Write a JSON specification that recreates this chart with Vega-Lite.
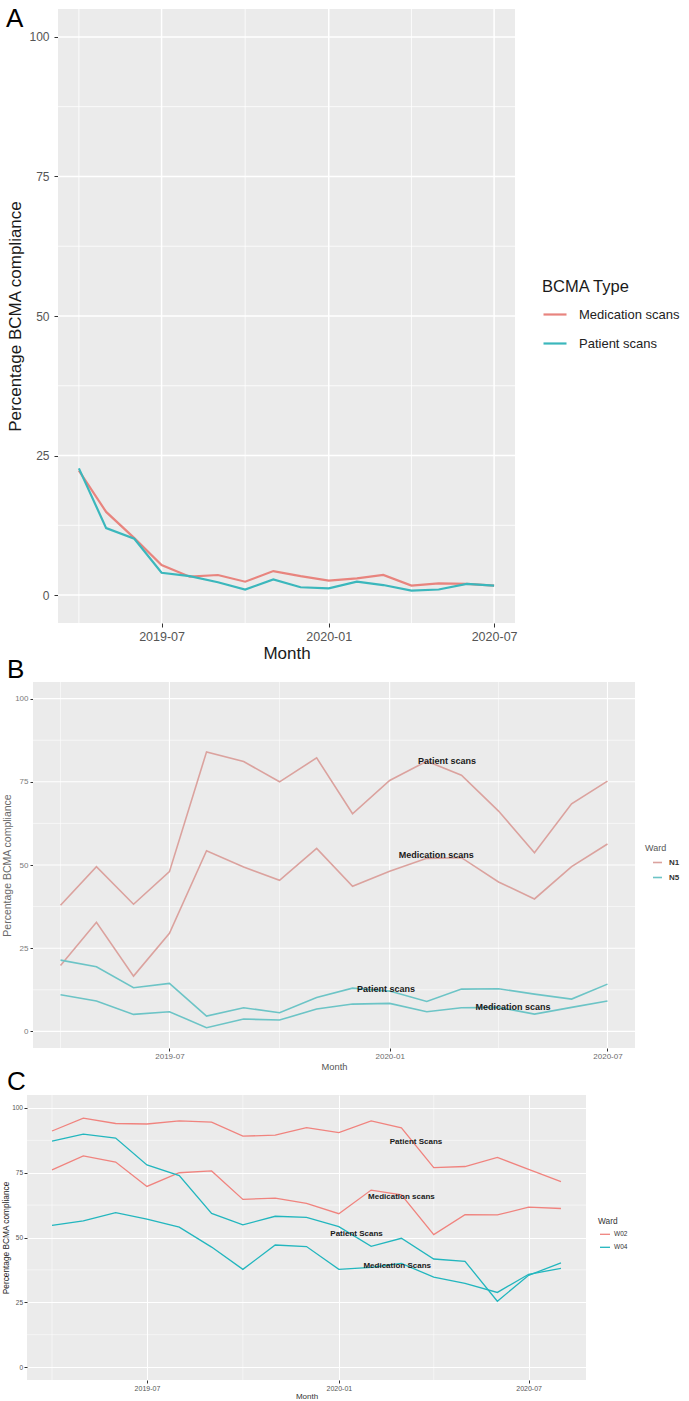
{
"$schema":"https://vega.github.io/schema/vega-lite/v6.json",
"padding":{"left":1,"top":6,"right":0,"bottom":0},
"bounds":"flush",
"spacing":47,
"config":{
 "font":"Liberation Sans",
 "view":{"stroke":null,"fill":null},
 "axis":{"domain":false,"grid":false,"tickColor":"#333333","labelFont":"Liberation Sans","titleFont":"Liberation Sans","titleFontWeight":"normal","labelFlush":false,"labelOverlap":false},
 "legend":{"labelFont":"Liberation Sans","titleFont":"Liberation Sans","padding":0,"titleFontWeight":"normal"},
 "title":{"font":"Liberation Sans","fontWeight":"normal","color":"#000000","fontSize":26}
},
"datasets":{
 "a":[
  {"Month":"2019-04-01","Type":"Medication scans","Value":22.3},{"Month":"2019-05-01","Type":"Medication scans","Value":14.9},{"Month":"2019-06-01","Type":"Medication scans","Value":10.2},{"Month":"2019-07-01","Type":"Medication scans","Value":5.4},{"Month":"2019-08-01","Type":"Medication scans","Value":3.3},{"Month":"2019-09-01","Type":"Medication scans","Value":3.6},{"Month":"2019-10-01","Type":"Medication scans","Value":2.4},{"Month":"2019-11-01","Type":"Medication scans","Value":4.3},{"Month":"2019-12-01","Type":"Medication scans","Value":3.4},{"Month":"2020-01-01","Type":"Medication scans","Value":2.6},{"Month":"2020-02-01","Type":"Medication scans","Value":3.0},{"Month":"2020-03-01","Type":"Medication scans","Value":3.6},{"Month":"2020-04-01","Type":"Medication scans","Value":1.7},{"Month":"2020-05-01","Type":"Medication scans","Value":2.1},{"Month":"2020-06-01","Type":"Medication scans","Value":2.0},{"Month":"2020-07-01","Type":"Medication scans","Value":1.7},
  {"Month":"2019-04-01","Type":"Patient scans","Value":22.7},{"Month":"2019-05-01","Type":"Patient scans","Value":12.0},{"Month":"2019-06-01","Type":"Patient scans","Value":10.1},{"Month":"2019-07-01","Type":"Patient scans","Value":4.0},{"Month":"2019-08-01","Type":"Patient scans","Value":3.4},{"Month":"2019-09-01","Type":"Patient scans","Value":2.3},{"Month":"2019-10-01","Type":"Patient scans","Value":1.0},{"Month":"2019-11-01","Type":"Patient scans","Value":2.8},{"Month":"2019-12-01","Type":"Patient scans","Value":1.4},{"Month":"2020-01-01","Type":"Patient scans","Value":1.2},{"Month":"2020-02-01","Type":"Patient scans","Value":2.4},{"Month":"2020-03-01","Type":"Patient scans","Value":1.8},{"Month":"2020-04-01","Type":"Patient scans","Value":0.8},{"Month":"2020-05-01","Type":"Patient scans","Value":1.0},{"Month":"2020-06-01","Type":"Patient scans","Value":2.0},{"Month":"2020-07-01","Type":"Patient scans","Value":1.7}
 ],
 "b":[
  {"Month":"2019-04-01","Ward":"N1","Type":"Patient scans","Value":37.9},{"Month":"2019-05-01","Ward":"N1","Type":"Patient scans","Value":49.5},{"Month":"2019-06-01","Ward":"N1","Type":"Patient scans","Value":38.2},{"Month":"2019-07-01","Ward":"N1","Type":"Patient scans","Value":48.0},{"Month":"2019-08-01","Ward":"N1","Type":"Patient scans","Value":84.0},{"Month":"2019-09-01","Ward":"N1","Type":"Patient scans","Value":81.1},{"Month":"2019-10-01","Ward":"N1","Type":"Patient scans","Value":75.0},{"Month":"2019-11-01","Ward":"N1","Type":"Patient scans","Value":82.2},{"Month":"2019-12-01","Ward":"N1","Type":"Patient scans","Value":65.4},{"Month":"2020-01-01","Ward":"N1","Type":"Patient scans","Value":75.4},{"Month":"2020-02-01","Ward":"N1","Type":"Patient scans","Value":81.2},{"Month":"2020-03-01","Ward":"N1","Type":"Patient scans","Value":77.0},{"Month":"2020-04-01","Ward":"N1","Type":"Patient scans","Value":66.2},{"Month":"2020-05-01","Ward":"N1","Type":"Patient scans","Value":53.7},{"Month":"2020-06-01","Ward":"N1","Type":"Patient scans","Value":68.4},{"Month":"2020-07-01","Ward":"N1","Type":"Patient scans","Value":75.2},
  {"Month":"2019-04-01","Ward":"N1","Type":"Medication scans","Value":19.8},{"Month":"2019-05-01","Ward":"N1","Type":"Medication scans","Value":32.8},{"Month":"2019-06-01","Ward":"N1","Type":"Medication scans","Value":16.6},{"Month":"2019-07-01","Ward":"N1","Type":"Medication scans","Value":29.5},{"Month":"2019-08-01","Ward":"N1","Type":"Medication scans","Value":54.3},{"Month":"2019-09-01","Ward":"N1","Type":"Medication scans","Value":49.4},{"Month":"2019-10-01","Ward":"N1","Type":"Medication scans","Value":45.4},{"Month":"2019-11-01","Ward":"N1","Type":"Medication scans","Value":55.0},{"Month":"2019-12-01","Ward":"N1","Type":"Medication scans","Value":43.6},{"Month":"2020-01-01","Ward":"N1","Type":"Medication scans","Value":48.1},{"Month":"2020-02-01","Ward":"N1","Type":"Medication scans","Value":52.0},{"Month":"2020-03-01","Ward":"N1","Type":"Medication scans","Value":52.2},{"Month":"2020-04-01","Ward":"N1","Type":"Medication scans","Value":44.9},{"Month":"2020-05-01","Ward":"N1","Type":"Medication scans","Value":39.8},{"Month":"2020-06-01","Ward":"N1","Type":"Medication scans","Value":49.5},{"Month":"2020-07-01","Ward":"N1","Type":"Medication scans","Value":56.3},
  {"Month":"2019-04-01","Ward":"N5","Type":"Patient scans","Value":21.4},{"Month":"2019-05-01","Ward":"N5","Type":"Patient scans","Value":19.4},{"Month":"2019-06-01","Ward":"N5","Type":"Patient scans","Value":13.1},{"Month":"2019-07-01","Ward":"N5","Type":"Patient scans","Value":14.4},{"Month":"2019-08-01","Ward":"N5","Type":"Patient scans","Value":4.6},{"Month":"2019-09-01","Ward":"N5","Type":"Patient scans","Value":7.1},{"Month":"2019-10-01","Ward":"N5","Type":"Patient scans","Value":5.6},{"Month":"2019-11-01","Ward":"N5","Type":"Patient scans","Value":10.2},{"Month":"2019-12-01","Ward":"N5","Type":"Patient scans","Value":13.0},{"Month":"2020-01-01","Ward":"N5","Type":"Patient scans","Value":12.1},{"Month":"2020-02-01","Ward":"N5","Type":"Patient scans","Value":9.0},{"Month":"2020-03-01","Ward":"N5","Type":"Patient scans","Value":12.7},{"Month":"2020-04-01","Ward":"N5","Type":"Patient scans","Value":12.8},{"Month":"2020-05-01","Ward":"N5","Type":"Patient scans","Value":11.2},{"Month":"2020-06-01","Ward":"N5","Type":"Patient scans","Value":9.7},{"Month":"2020-07-01","Ward":"N5","Type":"Patient scans","Value":14.2},
  {"Month":"2019-04-01","Ward":"N5","Type":"Medication scans","Value":11.0},{"Month":"2019-05-01","Ward":"N5","Type":"Medication scans","Value":9.1},{"Month":"2019-06-01","Ward":"N5","Type":"Medication scans","Value":5.1},{"Month":"2019-07-01","Ward":"N5","Type":"Medication scans","Value":5.9},{"Month":"2019-08-01","Ward":"N5","Type":"Medication scans","Value":1.1},{"Month":"2019-09-01","Ward":"N5","Type":"Medication scans","Value":3.7},{"Month":"2019-10-01","Ward":"N5","Type":"Medication scans","Value":3.4},{"Month":"2019-11-01","Ward":"N5","Type":"Medication scans","Value":6.7},{"Month":"2019-12-01","Ward":"N5","Type":"Medication scans","Value":8.2},{"Month":"2020-01-01","Ward":"N5","Type":"Medication scans","Value":8.4},{"Month":"2020-02-01","Ward":"N5","Type":"Medication scans","Value":5.9},{"Month":"2020-03-01","Ward":"N5","Type":"Medication scans","Value":7.1},{"Month":"2020-04-01","Ward":"N5","Type":"Medication scans","Value":7.2},{"Month":"2020-05-01","Ward":"N5","Type":"Medication scans","Value":5.2},{"Month":"2020-06-01","Ward":"N5","Type":"Medication scans","Value":7.2},{"Month":"2020-07-01","Ward":"N5","Type":"Medication scans","Value":9.1}
 ],
 "bl":[
  {"Month":"2020-02-18","Value":81.2,"Label":"Patient scans"},
  {"Month":"2020-02-09","Value":53.0,"Label":"Medication scans"},
  {"Month":"2019-12-29","Value":12.7,"Label":"Patient scans"},
  {"Month":"2020-04-13","Value":7.4,"Label":"Medication scans"}
 ],
 "c":[
  {"Month":"2019-04-01","Ward":"W02","Type":"Patient Scans","Value":91.1},{"Month":"2019-05-01","Ward":"W02","Type":"Patient Scans","Value":96.1},{"Month":"2019-06-01","Ward":"W02","Type":"Patient Scans","Value":94.0},{"Month":"2019-07-01","Ward":"W02","Type":"Patient Scans","Value":93.8},{"Month":"2019-08-01","Ward":"W02","Type":"Patient Scans","Value":95.0},{"Month":"2019-09-01","Ward":"W02","Type":"Patient Scans","Value":94.5},{"Month":"2019-10-01","Ward":"W02","Type":"Patient Scans","Value":89.1},{"Month":"2019-11-01","Ward":"W02","Type":"Patient Scans","Value":89.5},{"Month":"2019-12-01","Ward":"W02","Type":"Patient Scans","Value":92.4},{"Month":"2020-01-01","Ward":"W02","Type":"Patient Scans","Value":90.5},{"Month":"2020-02-01","Ward":"W02","Type":"Patient Scans","Value":95.0},{"Month":"2020-03-01","Ward":"W02","Type":"Patient Scans","Value":92.3},{"Month":"2020-04-01","Ward":"W02","Type":"Patient Scans","Value":77.0},{"Month":"2020-05-01","Ward":"W02","Type":"Patient Scans","Value":77.4},{"Month":"2020-06-01","Ward":"W02","Type":"Patient Scans","Value":80.9},{"Month":"2020-07-01","Ward":"W02","Type":"Patient Scans","Value":76.3},{"Month":"2020-08-01","Ward":"W02","Type":"Patient Scans","Value":71.6},
  {"Month":"2019-04-01","Ward":"W02","Type":"Medication Scans","Value":76.1},{"Month":"2019-05-01","Ward":"W02","Type":"Medication Scans","Value":81.5},{"Month":"2019-06-01","Ward":"W02","Type":"Medication Scans","Value":79.1},{"Month":"2019-07-01","Ward":"W02","Type":"Medication Scans","Value":69.7},{"Month":"2019-08-01","Ward":"W02","Type":"Medication Scans","Value":75.0},{"Month":"2019-09-01","Ward":"W02","Type":"Medication Scans","Value":75.7},{"Month":"2019-10-01","Ward":"W02","Type":"Medication Scans","Value":64.7},{"Month":"2019-11-01","Ward":"W02","Type":"Medication Scans","Value":65.2},{"Month":"2019-12-01","Ward":"W02","Type":"Medication Scans","Value":63.2},{"Month":"2020-01-01","Ward":"W02","Type":"Medication Scans","Value":59.2},{"Month":"2020-02-01","Ward":"W02","Type":"Medication Scans","Value":68.3},{"Month":"2020-03-01","Ward":"W02","Type":"Medication Scans","Value":66.5},{"Month":"2020-04-01","Ward":"W02","Type":"Medication Scans","Value":51.1},{"Month":"2020-05-01","Ward":"W02","Type":"Medication Scans","Value":58.8},{"Month":"2020-06-01","Ward":"W02","Type":"Medication Scans","Value":58.7},{"Month":"2020-07-01","Ward":"W02","Type":"Medication Scans","Value":61.7},{"Month":"2020-08-01","Ward":"W02","Type":"Medication Scans","Value":61.2},
  {"Month":"2019-04-01","Ward":"W04","Type":"Patient Scans","Value":87.2},{"Month":"2019-05-01","Ward":"W04","Type":"Patient Scans","Value":89.9},{"Month":"2019-06-01","Ward":"W04","Type":"Patient Scans","Value":88.4},{"Month":"2019-07-01","Ward":"W04","Type":"Patient Scans","Value":78.0},{"Month":"2019-08-01","Ward":"W04","Type":"Patient Scans","Value":73.9},{"Month":"2019-09-01","Ward":"W04","Type":"Patient Scans","Value":59.3},{"Month":"2019-10-01","Ward":"W04","Type":"Patient Scans","Value":54.9},{"Month":"2019-11-01","Ward":"W04","Type":"Patient Scans","Value":58.2},{"Month":"2019-12-01","Ward":"W04","Type":"Patient Scans","Value":57.8},{"Month":"2020-01-01","Ward":"W04","Type":"Patient Scans","Value":54.2},{"Month":"2020-02-01","Ward":"W04","Type":"Patient Scans","Value":46.6},{"Month":"2020-03-01","Ward":"W04","Type":"Patient Scans","Value":49.7},{"Month":"2020-04-01","Ward":"W04","Type":"Patient Scans","Value":41.7},{"Month":"2020-05-01","Ward":"W04","Type":"Patient Scans","Value":40.8},{"Month":"2020-06-01","Ward":"W04","Type":"Patient Scans","Value":25.4},{"Month":"2020-07-01","Ward":"W04","Type":"Patient Scans","Value":35.4},{"Month":"2020-08-01","Ward":"W04","Type":"Patient Scans","Value":40.2},
  {"Month":"2019-04-01","Ward":"W04","Type":"Medication Scans","Value":54.7},{"Month":"2019-05-01","Ward":"W04","Type":"Medication Scans","Value":56.4},{"Month":"2019-06-01","Ward":"W04","Type":"Medication Scans","Value":59.6},{"Month":"2019-07-01","Ward":"W04","Type":"Medication Scans","Value":57.1},{"Month":"2019-08-01","Ward":"W04","Type":"Medication Scans","Value":54.0},{"Month":"2019-09-01","Ward":"W04","Type":"Medication Scans","Value":46.3},{"Month":"2019-10-01","Ward":"W04","Type":"Medication Scans","Value":37.7},{"Month":"2019-11-01","Ward":"W04","Type":"Medication Scans","Value":47.1},{"Month":"2019-12-01","Ward":"W04","Type":"Medication Scans","Value":46.5},{"Month":"2020-01-01","Ward":"W04","Type":"Medication Scans","Value":37.7},{"Month":"2020-02-01","Ward":"W04","Type":"Medication Scans","Value":38.5},{"Month":"2020-03-01","Ward":"W04","Type":"Medication Scans","Value":40.0},{"Month":"2020-04-01","Ward":"W04","Type":"Medication Scans","Value":34.7},{"Month":"2020-05-01","Ward":"W04","Type":"Medication Scans","Value":32.3},{"Month":"2020-06-01","Ward":"W04","Type":"Medication Scans","Value":28.8},{"Month":"2020-07-01","Ward":"W04","Type":"Medication Scans","Value":35.8},{"Month":"2020-08-01","Ward":"W04","Type":"Medication Scans","Value":38.1}
 ],
 "cl":[
  {"Month":"2020-03-15","Value":86.9,"Label":"Patient Scans"},
  {"Month":"2020-03-01","Value":65.6,"Label":"Medication scans"},
  {"Month":"2020-01-18","Value":51.3,"Label":"Patient Scans"},
  {"Month":"2020-02-26","Value":39.0,"Label":"Medication Scans"}
 ]
},
"resolve":{"scale":{"x":"independent","y":"independent","color":"independent"},"legend":{"color":"independent"}},
"vconcat":[
 {
  "width":488,"height":614,
  "title":{"text":"A","anchor":"start","frame":"group","dx":-21,"offset":-24},
  "data":{"values":[{}]},
  "layer":[
   {"mark":{"type":"rect","color":"#EBEBEB"},"encoding":{"x":{"datum":{"year":2019,"month":3,"date":9,"utc":true},"type":"temporal","scale":{"type":"utc","domain":[{"year":2019,"month":3,"date":9,"utc":true},{"year":2020,"month":7,"date":24,"utc":true}],"range":[31,488]}},"x2":{"datum":{"year":2020,"month":7,"date":24,"utc":true}},"y":{"datum":-5,"type":"quantitative","scale":{"domain":[-5,105],"nice":false,"zero":false}},"y2":{"datum":105}}},
   {"mark":{"type":"rule","color":"#FFFFFF","strokeWidth":0.8},"encoding":{"x":{"datum":{"year":2019,"month":3,"date":9,"utc":true},"type":"temporal"},"x2":{"datum":{"year":2020,"month":7,"date":24,"utc":true}},"y":{"datum":12.5,"type":"quantitative"}}},
   {"mark":{"type":"rule","color":"#FFFFFF","strokeWidth":0.8},"encoding":{"x":{"datum":{"year":2019,"month":3,"date":9,"utc":true},"type":"temporal"},"x2":{"datum":{"year":2020,"month":7,"date":24,"utc":true}},"y":{"datum":37.5,"type":"quantitative"}}},
   {"mark":{"type":"rule","color":"#FFFFFF","strokeWidth":0.8},"encoding":{"x":{"datum":{"year":2019,"month":3,"date":9,"utc":true},"type":"temporal"},"x2":{"datum":{"year":2020,"month":7,"date":24,"utc":true}},"y":{"datum":62.5,"type":"quantitative"}}},
   {"mark":{"type":"rule","color":"#FFFFFF","strokeWidth":0.8},"encoding":{"x":{"datum":{"year":2019,"month":3,"date":9,"utc":true},"type":"temporal"},"x2":{"datum":{"year":2020,"month":7,"date":24,"utc":true}},"y":{"datum":87.5,"type":"quantitative"}}},
   {"mark":{"type":"rule","color":"#FFFFFF","strokeWidth":0.8},"encoding":{"x":{"datum":{"year":2019,"month":4,"date":1,"utc":true},"type":"temporal"},"y":{"datum":-5,"type":"quantitative"},"y2":{"datum":105}}},
   {"mark":{"type":"rule","color":"#FFFFFF","strokeWidth":0.8},"encoding":{"x":{"datum":{"year":2019,"month":10,"date":1,"utc":true},"type":"temporal"},"y":{"datum":-5,"type":"quantitative"},"y2":{"datum":105}}},
   {"mark":{"type":"rule","color":"#FFFFFF","strokeWidth":0.8},"encoding":{"x":{"datum":{"year":2020,"month":4,"date":1,"utc":true},"type":"temporal"},"y":{"datum":-5,"type":"quantitative"},"y2":{"datum":105}}},
   {"mark":{"type":"rule","color":"#FFFFFF","strokeWidth":1.5},"encoding":{"x":{"datum":{"year":2019,"month":3,"date":9,"utc":true},"type":"temporal"},"x2":{"datum":{"year":2020,"month":7,"date":24,"utc":true}},"y":{"datum":0,"type":"quantitative"}}},
   {"mark":{"type":"rule","color":"#FFFFFF","strokeWidth":1.5},"encoding":{"x":{"datum":{"year":2019,"month":3,"date":9,"utc":true},"type":"temporal"},"x2":{"datum":{"year":2020,"month":7,"date":24,"utc":true}},"y":{"datum":25,"type":"quantitative"}}},
   {"mark":{"type":"rule","color":"#FFFFFF","strokeWidth":1.5},"encoding":{"x":{"datum":{"year":2019,"month":3,"date":9,"utc":true},"type":"temporal"},"x2":{"datum":{"year":2020,"month":7,"date":24,"utc":true}},"y":{"datum":50,"type":"quantitative"}}},
   {"mark":{"type":"rule","color":"#FFFFFF","strokeWidth":1.5},"encoding":{"x":{"datum":{"year":2019,"month":3,"date":9,"utc":true},"type":"temporal"},"x2":{"datum":{"year":2020,"month":7,"date":24,"utc":true}},"y":{"datum":75,"type":"quantitative"}}},
   {"mark":{"type":"rule","color":"#FFFFFF","strokeWidth":1.5},"encoding":{"x":{"datum":{"year":2019,"month":3,"date":9,"utc":true},"type":"temporal"},"x2":{"datum":{"year":2020,"month":7,"date":24,"utc":true}},"y":{"datum":100,"type":"quantitative"}}},
   {"mark":{"type":"rule","color":"#FFFFFF","strokeWidth":1.5},"encoding":{"x":{"datum":{"year":2019,"month":7,"date":1,"utc":true},"type":"temporal"},"y":{"datum":-5,"type":"quantitative"},"y2":{"datum":105}}},
   {"mark":{"type":"rule","color":"#FFFFFF","strokeWidth":1.5},"encoding":{"x":{"datum":{"year":2020,"month":1,"date":1,"utc":true},"type":"temporal"},"y":{"datum":-5,"type":"quantitative"},"y2":{"datum":105}}},
   {"mark":{"type":"rule","color":"#FFFFFF","strokeWidth":1.5},"encoding":{"x":{"datum":{"year":2020,"month":7,"date":1,"utc":true},"type":"temporal"},"y":{"datum":-5,"type":"quantitative"},"y2":{"datum":105}}},
   {"data":{"name":"a"},"mark":{"type":"line","strokeWidth":2.2},
    "encoding":{
     "x":{"field":"Month","type":"temporal","scale":{"type":"utc","domain":[{"year":2019,"month":3,"date":9,"utc":true},{"year":2020,"month":7,"date":24,"utc":true}],"range":[31,488]},
      "axis":{"values":[{"year":2019,"month":7,"date":1,"utc":true},{"year":2020,"month":1,"date":1,"utc":true},{"year":2020,"month":7,"date":1,"utc":true}],"format":"%Y-%m","tickSize":4,"labelPadding":3,"labelFontSize":12.5,"labelColor":"#555555","title":"Month","titleFontSize":17,"titleColor":"#1a1a1a","titlePadding":3}},
     "y":{"field":"Value","type":"quantitative","scale":{"domain":[-5,105],"nice":false,"zero":false},
      "axis":{"values":[0,25,50,75,100],"offset":-31,"tickSize":4,"labelPadding":5,"labelFontSize":12,"labelColor":"#555555","title":"Percentage BCMA compliance","titleFontSize":17,"titleColor":"#1a1a1a","titlePadding":4}},
     "color":{"field":"Type","type":"nominal","scale":{"domain":["Medication scans","Patient scans"],"range":["#E8847E","#3BB7BC"]},
      "legend":{"orient":"none","legendX":515,"legendY":270,"title":"BCMA Type","titleFontSize":16.5,"titleColor":"#1a1a1a","titlePadding":6,"labelFontSize":13,"labelColor":"#222222","symbolType":"stroke","symbolSize":529,"symbolStrokeWidth":2.2,"labelOffset":11,"rowPadding":9}}
    }}
  ]
 },
 {
  "width":608,"height":378,
  "title":{"text":"B","anchor":"start","frame":"group","dx":-20,"offset":-13},
  "data":{"values":[{}]},
  "layer":[
   {"mark":{"type":"rect","color":"#EBEBEB"},"encoding":{"x":{"datum":{"year":2019,"month":3,"date":9,"utc":true},"type":"temporal","scale":{"type":"utc","domain":[{"year":2019,"month":3,"date":9,"utc":true},{"year":2020,"month":7,"date":24,"utc":true}],"range":[6,608]}},"x2":{"datum":{"year":2020,"month":7,"date":24,"utc":true}},"y":{"datum":-5,"type":"quantitative","scale":{"domain":[-5,105],"nice":false,"zero":false,"range":[378,12]}},"y2":{"datum":105}}},
   {"mark":{"type":"rule","color":"#FFFFFF","strokeWidth":0.55},"encoding":{"x":{"datum":{"year":2019,"month":3,"date":9,"utc":true},"type":"temporal"},"x2":{"datum":{"year":2020,"month":7,"date":24,"utc":true}},"y":{"datum":12.5,"type":"quantitative"}}},
   {"mark":{"type":"rule","color":"#FFFFFF","strokeWidth":0.55},"encoding":{"x":{"datum":{"year":2019,"month":3,"date":9,"utc":true},"type":"temporal"},"x2":{"datum":{"year":2020,"month":7,"date":24,"utc":true}},"y":{"datum":37.5,"type":"quantitative"}}},
   {"mark":{"type":"rule","color":"#FFFFFF","strokeWidth":0.55},"encoding":{"x":{"datum":{"year":2019,"month":3,"date":9,"utc":true},"type":"temporal"},"x2":{"datum":{"year":2020,"month":7,"date":24,"utc":true}},"y":{"datum":62.5,"type":"quantitative"}}},
   {"mark":{"type":"rule","color":"#FFFFFF","strokeWidth":0.55},"encoding":{"x":{"datum":{"year":2019,"month":3,"date":9,"utc":true},"type":"temporal"},"x2":{"datum":{"year":2020,"month":7,"date":24,"utc":true}},"y":{"datum":87.5,"type":"quantitative"}}},
   {"mark":{"type":"rule","color":"#FFFFFF","strokeWidth":0.55},"encoding":{"x":{"datum":{"year":2019,"month":4,"date":1,"utc":true},"type":"temporal"},"y":{"datum":-5,"type":"quantitative"},"y2":{"datum":105}}},
   {"mark":{"type":"rule","color":"#FFFFFF","strokeWidth":0.55},"encoding":{"x":{"datum":{"year":2019,"month":10,"date":1,"utc":true},"type":"temporal"},"y":{"datum":-5,"type":"quantitative"},"y2":{"datum":105}}},
   {"mark":{"type":"rule","color":"#FFFFFF","strokeWidth":0.55},"encoding":{"x":{"datum":{"year":2020,"month":4,"date":1,"utc":true},"type":"temporal"},"y":{"datum":-5,"type":"quantitative"},"y2":{"datum":105}}},
   {"mark":{"type":"rule","color":"#FFFFFF","strokeWidth":1.1},"encoding":{"x":{"datum":{"year":2019,"month":3,"date":9,"utc":true},"type":"temporal"},"x2":{"datum":{"year":2020,"month":7,"date":24,"utc":true}},"y":{"datum":0,"type":"quantitative"}}},
   {"mark":{"type":"rule","color":"#FFFFFF","strokeWidth":1.1},"encoding":{"x":{"datum":{"year":2019,"month":3,"date":9,"utc":true},"type":"temporal"},"x2":{"datum":{"year":2020,"month":7,"date":24,"utc":true}},"y":{"datum":25,"type":"quantitative"}}},
   {"mark":{"type":"rule","color":"#FFFFFF","strokeWidth":1.1},"encoding":{"x":{"datum":{"year":2019,"month":3,"date":9,"utc":true},"type":"temporal"},"x2":{"datum":{"year":2020,"month":7,"date":24,"utc":true}},"y":{"datum":50,"type":"quantitative"}}},
   {"mark":{"type":"rule","color":"#FFFFFF","strokeWidth":1.1},"encoding":{"x":{"datum":{"year":2019,"month":3,"date":9,"utc":true},"type":"temporal"},"x2":{"datum":{"year":2020,"month":7,"date":24,"utc":true}},"y":{"datum":75,"type":"quantitative"}}},
   {"mark":{"type":"rule","color":"#FFFFFF","strokeWidth":1.1},"encoding":{"x":{"datum":{"year":2019,"month":3,"date":9,"utc":true},"type":"temporal"},"x2":{"datum":{"year":2020,"month":7,"date":24,"utc":true}},"y":{"datum":100,"type":"quantitative"}}},
   {"mark":{"type":"rule","color":"#FFFFFF","strokeWidth":1.1},"encoding":{"x":{"datum":{"year":2019,"month":7,"date":1,"utc":true},"type":"temporal"},"y":{"datum":-5,"type":"quantitative"},"y2":{"datum":105}}},
   {"mark":{"type":"rule","color":"#FFFFFF","strokeWidth":1.1},"encoding":{"x":{"datum":{"year":2020,"month":1,"date":1,"utc":true},"type":"temporal"},"y":{"datum":-5,"type":"quantitative"},"y2":{"datum":105}}},
   {"mark":{"type":"rule","color":"#FFFFFF","strokeWidth":1.1},"encoding":{"x":{"datum":{"year":2020,"month":7,"date":1,"utc":true},"type":"temporal"},"y":{"datum":-5,"type":"quantitative"},"y2":{"datum":105}}},
   {"data":{"name":"b"},"mark":{"type":"line","strokeWidth":1.6},
    "encoding":{
     "x":{"field":"Month","type":"temporal","scale":{"type":"utc","domain":[{"year":2019,"month":3,"date":9,"utc":true},{"year":2020,"month":7,"date":24,"utc":true}],"range":[6,608]},
      "axis":{"values":[{"year":2019,"month":7,"date":1,"utc":true},{"year":2020,"month":1,"date":1,"utc":true},{"year":2020,"month":7,"date":1,"utc":true}],"format":"%Y-%m","tickSize":3,"labelPadding":1.5,"labelFontSize":8,"labelColor":"#6b6b6b","title":"Month","titleFontSize":9.3,"titleColor":"#555555","titlePadding":2}},
     "y":{"field":"Value","type":"quantitative","scale":{"domain":[-5,105],"nice":false,"zero":false,"range":[378,12]},
      "axis":{"values":[0,25,50,75,100],"offset":-6,"tickSize":3,"labelPadding":2,"labelFontSize":8,"labelColor":"#7a7a7a","title":"Percentage BCMA compliance","titleFontSize":10.5,"titleColor":"#6a6a6a","titlePadding":2}},
     "color":{"field":"Ward","type":"nominal","scale":{"domain":["N1","N5"],"range":["#DBA29E","#6CC4C6"]},
      "legend":{"orient":"none","legendX":618,"legendY":174,"title":"Ward","titleFontSize":9,"titleColor":"#555555","titlePadding":4,"labelFontSize":8,"labelFontWeight":"bold","labelColor":"#333333","symbolType":"stroke","symbolSize":81,"symbolStrokeWidth":1.6,"symbolOffset":7,"labelOffset":6,"rowPadding":5}},
     "detail":{"field":"Type"}
    }},
   {"data":{"name":"bl"},"mark":{"type":"text","fontSize":9,"fontWeight":"bold","color":"#1a1a1a","align":"center","baseline":"middle"},
    "encoding":{"x":{"field":"Month","type":"temporal"},"y":{"field":"Value","type":"quantitative"},"text":{"field":"Label"}}}
  ]
 },
 {
  "width":559,"height":285,
  "view":{"fill":"#EBEBEB","stroke":null},
  "title":{"text":"C","anchor":"start","frame":"group","dx":-20,"offset":0},
  "data":{"values":[{}]},
  "layer":[
   {"mark":{"type":"rule","color":"#FFFFFF","strokeWidth":0.5},"encoding":{"y":{"datum":12.5,"type":"quantitative"}}},
   {"mark":{"type":"rule","color":"#FFFFFF","strokeWidth":0.5},"encoding":{"y":{"datum":37.5,"type":"quantitative"}}},
   {"mark":{"type":"rule","color":"#FFFFFF","strokeWidth":0.5},"encoding":{"y":{"datum":62.5,"type":"quantitative"}}},
   {"mark":{"type":"rule","color":"#FFFFFF","strokeWidth":0.5},"encoding":{"y":{"datum":87.5,"type":"quantitative"}}},
   {"mark":{"type":"rule","color":"#FFFFFF","strokeWidth":0.5},"encoding":{"x":{"datum":{"year":2019,"month":4,"date":1,"utc":true},"type":"temporal"}}},
   {"mark":{"type":"rule","color":"#FFFFFF","strokeWidth":0.5},"encoding":{"x":{"datum":{"year":2019,"month":10,"date":1,"utc":true},"type":"temporal"}}},
   {"mark":{"type":"rule","color":"#FFFFFF","strokeWidth":0.5},"encoding":{"x":{"datum":{"year":2020,"month":4,"date":1,"utc":true},"type":"temporal"}}},
   {"data":{"name":"c"},"mark":{"type":"line","strokeWidth":1.3},
    "encoding":{
     "x":{"field":"Month","type":"temporal","scale":{"type":"utc","domain":[{"year":2019,"month":3,"date":8,"utc":true},{"year":2020,"month":8,"date":25,"utc":true}]},
      "axis":{"values":[{"year":2019,"month":7,"date":1,"utc":true},{"year":2020,"month":1,"date":1,"utc":true},{"year":2020,"month":7,"date":1,"utc":true}],"format":"%Y-%m","grid":true,"gridColor":"#FFFFFF","gridWidth":1,"tickSize":3,"labelPadding":1,"labelFontSize":7,"labelColor":"#555555","title":"Month","titleFontSize":8,"titleColor":"#333333","titlePadding":1}},
     "y":{"field":"Value","type":"quantitative","scale":{"domain":[-5,105],"nice":false,"zero":false},
      "axis":{"values":[0,25,50,75,100],"grid":true,"gridColor":"#FFFFFF","gridWidth":1,"tickSize":3,"labelPadding":1.5,"labelFontSize":6.5,"labelColor":"#555555","title":"Percentage BCMA compliance","titleFontSize":8.3,"titleColor":"#222222","titlePadding":1}},
     "color":{"field":"Ward","type":"nominal","scale":{"domain":["W02","W04"],"range":["#F0837E","#22B6BE"]},
      "legend":{"orient":"none","legendX":571,"legendY":122,"title":"Ward","titleFontSize":8.3,"titleColor":"#333333","titlePadding":3,"labelFontSize":6.5,"labelColor":"#333333","symbolType":"stroke","symbolSize":100,"symbolStrokeWidth":1.3,"symbolOffset":1,"labelOffset":3,"rowPadding":3}},
     "detail":{"field":"Type"}
    }},
   {"data":{"name":"cl"},"mark":{"type":"text","fontSize":8,"fontWeight":"bold","color":"#1a1a1a","align":"center","baseline":"middle"},
    "encoding":{"x":{"field":"Month","type":"temporal"},"y":{"field":"Value","type":"quantitative"},"text":{"field":"Label"}}}
  ]
 }
]
}
